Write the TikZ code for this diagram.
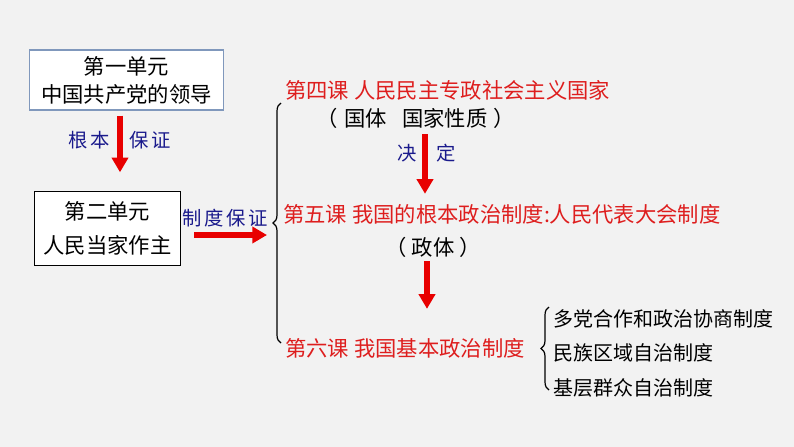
\documentclass[tikz,border=0pt]{standalone}
\usepackage{fontspec}
\setmainfont{Noto Sans CJK SC}
\usetikzlibrary{arrows.meta,positioning,calc,decorations.pathreplacing}
\definecolor{bgcol}{RGB}{242,242,242}
\definecolor{lessonred}{RGB}{222,30,30}
\definecolor{arrowred}{RGB}{232,0,0}
\definecolor{labelblue}{RGB}{26,26,140}
\definecolor{boxblue}{RGB}{128,152,188}
\tikzset{
  unitbox/.style={draw, line width=0.8pt, fill=white, align=center, inner sep=0pt},
  lesson/.style={anchor=west, inner sep=0pt, text=lessonred, font=\fontsize{16}{19}\selectfont},
  note/.style={inner sep=0pt, font=\fontsize{16}{19}\selectfont},
  sysitem/.style={anchor=west, inner sep=0pt, font=\fontsize{15}{18}\selectfont},
  bluelabel/.style={inner sep=0pt, text=labelblue, font=\fontsize{14.5}{16}\selectfont},
  redarrow/.style={draw=arrowred, line width=4.5pt, -{Triangle[width=12pt,length=11pt]}},
  bracket/.style={draw, line width=0.9pt, decorate, decoration={brace, amplitude=6pt}}
}
\begin{document}
\begin{tikzpicture}[x=0.75pt,y=-0.75pt]
\fill[bgcol] (0,0) rectangle (794,447);
\useasboundingbox (0,0) rectangle (794,447);
% units on the left
\node[unitbox, draw=boxblue, minimum width=146pt, minimum height=45pt, font=\fontsize{16}{21}\selectfont] (unit1) at (126.5,80) {第一单元\\中国共产党的领导};
\node[unitbox, draw=black, minimum width=110pt, minimum height=55pt, font=\fontsize{16}{25}\selectfont] (unit2) at (107.5,228.5) {第二单元\\人民当家作主};
\node[bluelabel] (genben) at (89,140) {根\hspace{2pt}本};
\node[bluelabel] (baozheng) at (150,140) {保\hspace{2pt}证};
\node[bluelabel] (zhidu) at (225,218) {制\hspace{2pt}度\hspace{2pt}保\hspace{2pt}证};
\draw[redarrow] ([shift={(-6.5,5)}]unit1.south) -- ([shift={(12.5,-19)}]unit2.north);
\coordinate (arrowend) at (267,235);
\draw[redarrow] ([shift={(13,6.5)}]unit2.east) -- (arrowend);
% lessons
\draw[bracket] (281,343) -- (281,103);
\node[lesson] (lesson4) at (285,90) {第四课 人民民主专政社会主义国家};
\node[note] (guoti) at (416,118) {（\hspace{0.3em}国体\hspace{0.7em}国家性质\hspace{0.3em}）};
\node[bluelabel] (jue) at (407,153) {决};
\node[bluelabel] (ding) at (446,153) {定};
\node[lesson] (lesson5) at (283,214) {第五课 我国的根本政治制度:人民代表大会制度};
\node[note] (zhengti) at (433,247) {（\hspace{0.25em}政体\hspace{0.25em}）};
\node[lesson] (lesson6) at (285,348) {第六课 我国基本政治制度};
\coordinate (a3) at ($(guoti.south)+(9,6)$);
\draw[redarrow] (a3) -- ($(a3 |- lesson5.north)+(0,-10)$);
\coordinate (a4) at ($(zhengti.south)+(-6,4)$);
\draw[redarrow] (a4) -- ($(a4 |- lesson6.north)+(0,-29)$);
% basic political systems
\draw[bracket] (549,390) -- (549,307);
\node[sysitem] (sys1) at (553,319) {多党合作和政治协商制度};
\node[sysitem] (sys2) at (553,353) {民族区域自治制度};
\node[sysitem] (sys3) at (553,388) {基层群众自治制度};
\end{tikzpicture}
\end{document}
